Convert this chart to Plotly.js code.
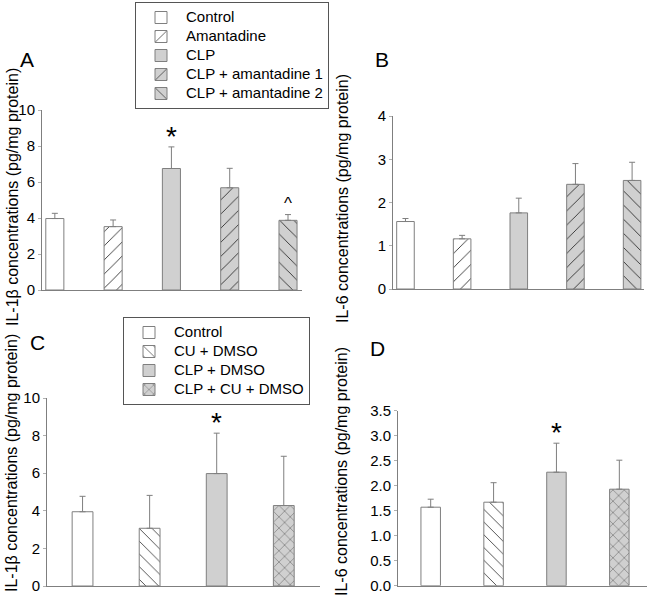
<!DOCTYPE html>
<html>
<head>
<meta charset="utf-8">
<script src="https://cdn.plot.ly/plotly-3.0.1.min.js"></script>
<style>html,body{margin:0;padding:0;background:#fff}#chart{width:651px;height:596px}</style>
</head>
<body>
<div id="chart"></div>
<script>
// ---- data ----
const groupsA = ['Control', 'Amantadine', 'CLP', 'CLP + amantadine 1', 'CLP + amantadine 2'];
const il1bA = [3.97, 3.52, 6.75, 5.68, 3.87];
const il1bAErr = [0.29, 0.37, 1.20, 1.08, 0.32];
const il6B = [1.56, 1.16, 1.76, 2.42, 2.51];
const il6BErr = [0.07, 0.08, 0.34, 0.48, 0.42];

const groupsC = ['Control', 'CU + DMSO', 'CLP + DMSO', 'CLP + CU + DMSO'];
const il1bC = [3.95, 3.07, 5.98, 4.28];
const il1bCErr = [0.82, 1.75, 2.15, 2.62];
const il6D = [1.57, 1.67, 2.27, 1.93];
const il6DErr = [0.16, 0.39, 0.58, 0.58];

const marksA = ['', '', '*', '', '^'];
const marksB = ['', '', '', '', ''];
const marksC = ['', '', '*', ''];
const marksD = ['', '', '*', ''];

const ticksA = [0, 2, 4, 6, 8, 10];
const ticksB = [0, 1, 2, 3, 4];
const ticksC = [0, 2, 4, 6, 8, 10];
const ticksD = [0, 0.5, 1.0, 1.5, 2.0, 2.5, 3.0, 3.5];

const titleIL1b = 'IL-1β concentrations (pg/mg protein)';
const titleIL6 = 'IL-6 concentrations (pg/mg protein)';

// ---- styles ----
const GREY = '#d0d0d0', WHITE = '#ffffff', EDGE = '#7f7f7f', HATCH = '#2e2e2e';
const styleA = [
  {bg: WHITE, shape: ''}, {bg: WHITE, shape: '/'}, {bg: GREY, shape: ''},
  {bg: GREY, shape: '/'}, {bg: GREY, shape: '\\'}
];
const styleC = [
  {bg: WHITE, shape: ''}, {bg: WHITE, shape: '\\'}, {bg: GREY, shape: ''}, {bg: GREY, shape: 'x'}
];
const FONT = '"Liberation Sans", Arial, sans-serif';
const LEGEND_TEXT_PX = 15;

function barTraces(groups, vals, errs, styles, xa, ya, legend, show, hsize) {
  return groups.map((g, i) => ({
    type: 'bar',
    x: [g], y: [vals[i]],
    name: '<span style="font-size:' + LEGEND_TEXT_PX + 'px">' + g + '</span>',
    xaxis: xa, yaxis: ya,
    legend: legend,
    showlegend: show,
    width: 0.31,
    marker: {
      color: styles[i].bg,
      line: {color: EDGE, width: 1},
      pattern: {shape: styles[i].shape, bgcolor: styles[i].bg, fgcolor: HATCH,
                size: styles[i].shape === 'x' ? 8 : hsize, solidity: 0.09}
    },
    error_y: {type: 'data', symmetric: false, array: [errs[i]], arrayminus: [0],
              color: EDGE, thickness: 1, width: 3},
    hoverinfo: 'skip'
  }));
}

const data = [].concat(
  barTraces(groupsA, il1bA, il1bAErr, styleA, 'x', 'y', 'legend', true, 10),
  barTraces(groupsA, il6B, il6BErr, styleA, 'x2', 'y2', 'legend', false, 10),
  barTraces(groupsC, il1bC, il1bCErr, styleC, 'x3', 'y3', 'legend2', true, 9),
  barTraces(groupsC, il6D, il6DErr, styleC, 'x4', 'y4', 'legend2', false, 9)
);

function px(x) { return x / 651; }
function py(y) { return 1 - y / 596; }

function xax(dom, n, lo, hi, anchor) {
  return {domain: [px(dom[0]), px(dom[1])], anchor: anchor, type: 'category',
    range: [lo, n - 1 + hi], showticklabels: false, ticks: '', showgrid: false,
    zeroline: false, showline: true, linecolor: EDGE, linewidth: 1, fixedrange: true};
}
function yax(dom, range, tv, fmt, anchor) {
  return {domain: [py(dom[1]), py(dom[0])], anchor: anchor, range: range,
    tickvals: tv, tickformat: fmt, ticks: 'outside', ticklen: 3, tickcolor: '#b0b0b0',
    ticklabeloverflow: 'allow',
    showgrid: false, zeroline: false, showline: true, linecolor: EDGE, linewidth: 1,
    tickfont: {family: FONT, size: 15, color: '#000'},
    fixedrange: true};
}

function marks(groups, vals, errs, m, xref, yref) {
  const out = [];
  groups.forEach((g, i) => {
    if (!m[i]) return;
    out.push({x: g, y: vals[i] + errs[i], xref: xref, yref: yref, text: m[i],
      showarrow: false, yanchor: 'bottom', yshift: m[i] === '*' ? -7 : 0,
      font: {family: FONT, size: m[i] === '*' ? 28 : 17, color: '#000'}});
  });
  return out;
}
function letter(t, x, y) {
  return {x: px(x), y: py(y), xref: 'paper', yref: 'paper', text: t, showarrow: false,
    xanchor: 'center', yanchor: 'middle', font: {family: FONT, size: 21, color: '#000'}};
}
function ytitle(t, x, y) {
  return {x: px(x), y: py(y), xref: 'paper', yref: 'paper', text: t, showarrow: false,
    textangle: -90, xanchor: 'center', yanchor: 'middle',
    font: {family: FONT, size: 16, color: '#000'}};
}

const legendBase = {xanchor: 'left', yanchor: 'top', bordercolor: '#555', borderwidth: 1,
  bgcolor: '#fff', font: {family: FONT, size: 12.3, color: '#000'}, itemwidth: 40,
  traceorder: 'normal'};

const layout = {
  width: 651, height: 596,
  margin: {l: 0, r: 0, t: 0, b: 0},
  paper_bgcolor: '#fff', plot_bgcolor: 'rgba(0,0,0,0)',
  barmode: 'overlay',
  font: {family: FONT, size: 15, color: '#000'},
  xaxis: xax([42, 302], 5, -0.22, 0.24, 'y'),
  yaxis: yax([110, 290], [0, 10], ticksA, 'd', 'x'),
  xaxis2: xax([393, 644], 5, -0.22, 0.21, 'y2'),
  yaxis2: yax([116, 289], [0, 4], ticksB, 'd', 'x2'),
  xaxis3: xax([47, 320], 4, -0.53, 0.54, 'y3'),
  yaxis3: yax([398, 586], [0, 10], ticksC, 'd', 'x3'),
  xaxis4: xax([398, 647], 4, -0.52, 0.44, 'y4'),
  yaxis4: yax([410.7, 585.7], [0, 3.5], ticksD, '.1f', 'x4'),
  legend: Object.assign({x: px(135), y: py(2)}, legendBase),
  legend2: Object.assign({x: px(123), y: py(317)}, legendBase),
  annotations: [].concat(
    marks(groupsA, il1bA, il1bAErr, marksA, 'x', 'y'),
    marks(groupsA, il6B, il6BErr, marksB, 'x2', 'y2'),
    marks(groupsC, il1bC, il1bCErr, marksC, 'x3', 'y3'),
    marks(groupsC, il6D, il6DErr, marksD, 'x4', 'y4'),
    [letter('A', 27, 60), letter('B', 382, 60), letter('C', 37, 342), letter('D', 377, 348),
     ytitle(titleIL1b, 12, 197), ytitle(titleIL6, 342, 198),
     ytitle(titleIL1b, 11, 463), ytitle(titleIL6, 341, 472)]
  )
};

Plotly.newPlot('chart', data, layout, {displayModeBar: false, staticPlot: true});
</script>
</body>
</html>
